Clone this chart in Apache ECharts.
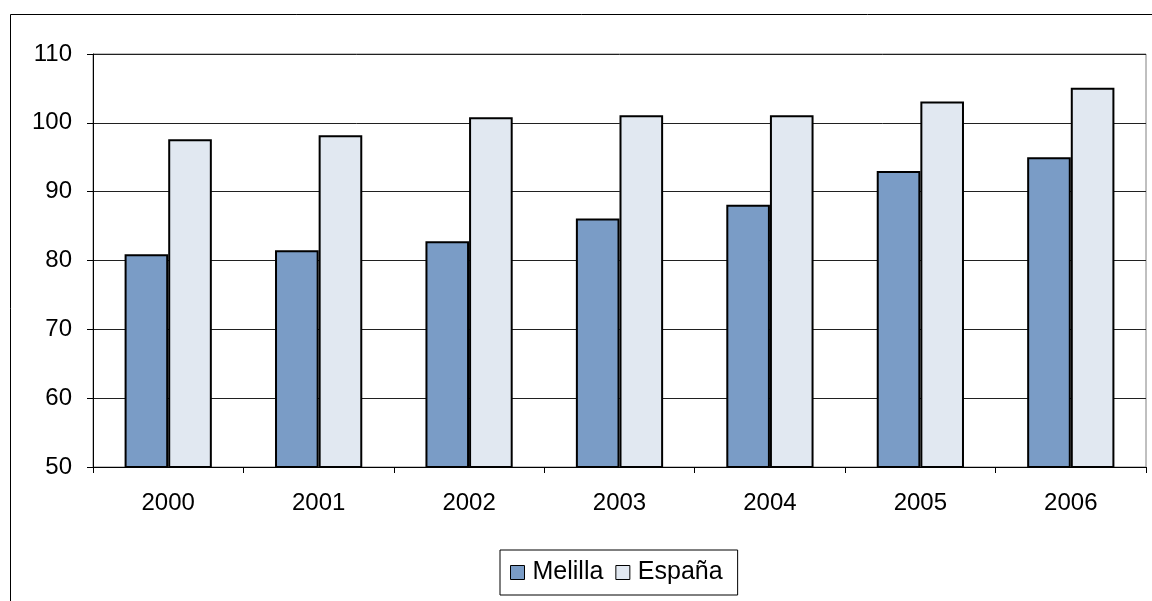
<!DOCTYPE html>
<html><head><meta charset="utf-8">
<script src="https://cdn.jsdelivr.net/npm/echarts@6/dist/echarts.min.js"></script>
<style>html,body{margin:0;padding:0;background:#fff}#c{width:1152px;height:601px}</style>
</head><body><div id="c"></div>
<script>
const categories = ['2000','2001','2002','2003','2004','2005','2006'];
const melilla = [80.9, 81.5, 82.8, 86.1, 88.1, 93.0, 95.0];
const espana = [97.6, 98.2, 100.8, 101.1, 101.1, 103.1, 105.1];
const seriesNames = ['Melilla', 'España'];
const yMin = 50, yMax = 110, yStep = 10;

const chart = echarts.init(document.getElementById('c'), null, {renderer: 'canvas'});
const font = 'Arial, "Liberation Sans", sans-serif';
chart.setOption({
  animation: false,
  backgroundColor: '#fff',
  graphic: [{
    type: 'rect', left: 8, top: 12, shape: {width: 1200, height: 700},
    style: {fill: 'none', stroke: '#000', lineWidth: 1}, z: -10, silent: true
  }],
  grid: {left: 93, right: 6, top: 54, bottom: 134, show: true, borderColor: '#808080', borderWidth: 1, backgroundColor: 'transparent'},
  legend: {
    data: seriesNames, left: 500, top: 550,
    padding: [10, 15, 10, 10],
    borderColor: '#000', borderWidth: 1,
    itemWidth: 14, itemHeight: 14, itemGap: 12,
    textStyle: {fontFamily: font, fontSize: 25, color: '#000', padding: [0,0,0,3]},
    icon: 'rect',
    itemStyle: {borderColor: '#000', borderWidth: 1}
  },
  xAxis: {
    type: 'category', data: categories,
    axisLine: {lineStyle: {color: '#000', width: 1}},
    axisTick: {show: true, length: 6, inside: false, lineStyle: {color: '#000'}},
    axisLabel: {fontFamily: font, fontSize: 24, color: '#000', margin: 24},
    splitLine: {show: false}
  },
  yAxis: {
    type: 'value', min: yMin, max: yMax, interval: yStep,
    axisLine: {show: true, lineStyle: {color: '#000', width: 1}},
    axisTick: {show: true, length: 6, lineStyle: {color: '#000'}},
    axisLabel: {fontFamily: font, fontSize: 24, color: '#000', margin: 21},
    splitLine: {show: true, lineStyle: {color: '#202020', width: 1}}
  },
  series: [
    {name: seriesNames[0], type: 'bar', data: melilla, barGap: '0%', barCategoryGap: '42%',
     itemStyle: {color: '#7A9CC6', borderColor: '#000', borderWidth: 2}},
    {name: seriesNames[1], type: 'bar', data: espana, barGap: '0%', barCategoryGap: '42%',
     itemStyle: {color: '#E1E8F1', borderColor: '#000', borderWidth: 2}}
  ]
});
</script></body></html>
